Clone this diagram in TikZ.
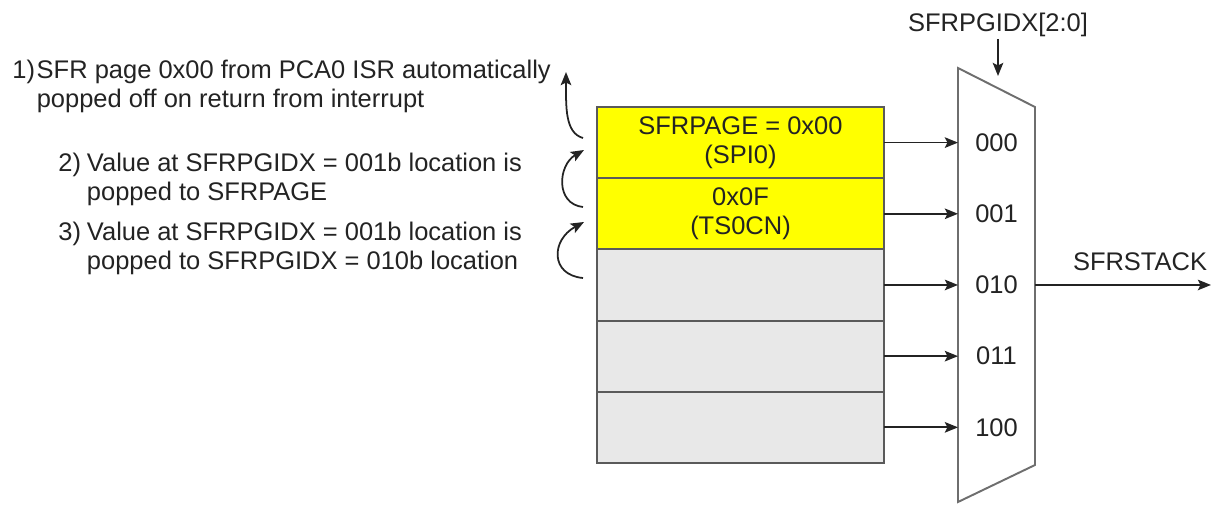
\documentclass[tikz,border=0pt]{standalone}
\usepackage{fontspec}
\setmainfont{Liberation Sans}
\usetikzlibrary{arrows.meta, positioning}
\definecolor{stkyellow}{RGB}{255,255,0}
\definecolor{stkgray}{RGB}{232,232,232}
\definecolor{stkedge}{RGB}{90,90,90}
\definecolor{muxedge}{RGB}{110,110,110}
\definecolor{inktext}{RGB}{35,35,35}
\tikzset{
  %% ---- boxes ----
  cell/.style    = {rectangle, draw=stkedge, line width=1.2pt,
                    fill=#1, minimum width=5.74cm, minimum height=1.424cm,
                    outer sep=0pt, inner sep=0pt, align=center},
  cell/.default  = stkgray,
  muxbody/.style = {draw=muxedge, line width=1.1pt, fill=white},
  %% ---- text ----
  note/.style    = {anchor=base west, inner sep=0pt, align=left},
  %% ---- arrows ----
  arr/.style     = {-{Stealth[length=7.5pt, width=6pt, inset=1.5pt]}, line width=1pt, color=inktext},
}

\begin{document}
\begin{tikzpicture}[
  x=0.02cm, y=-0.02cm,
  every node/.style = {font=\fontsize{14.5}{16.6}\selectfont, text=inktext}
]
\useasboundingbox (0,0) rectangle (1221,504);
% stack of SFR pages
\node[cell=stkyellow]            (r0) at (740.5,142.6) {SFRPAGE = 0x00\\(SPI0)};
\node[cell=stkyellow, below=0pt of r0] (r1) {0x0F\\(TS0CN)};
\node[cell, below=0pt of r1]     (r2) {};
\node[cell, below=0pt of r2]     (r3) {};
\node[cell, below=0pt of r3]     (r4) {};
% multiplexer
\coordinate (mtl) at (958,68);  \coordinate (mtr) at (1035,107);
\coordinate (mbr) at (1035,465); \coordinate (mbl) at (958,502);
\draw[muxbody] (mtl) -- (mtr) -- (mbr) -- (mbl) -- cycle;
\node (i0) at (996.5,0 |- r0) {000};
\node (i1) at (996.5,0 |- r1) {001};
\node (i2) at (996.5,0 |- r2) {010};
\node (i3) at (996.5,0 |- r3) {011};
\node (i4) at (996.5,0 |- r4) {100};
\draw[arr] (r0.east) -- (r0.east -| mtl); \draw[arr] (r1.east) -- (r1.east -| mtl);
\draw[arr] (r2.east) -- (r2.east -| mtl); \draw[arr] (r3.east) -- (r3.east -| mtl);
\draw[arr] (r4.east) -- (r4.east -| mtl);
% select and output
\node[inner sep=1pt] (idx) at (998,25) {SFRPGIDX[2:0]};
\coordinate (idxtip) at (998,76);
\draw[arr] (idx.south) -- (idxtip);
\node (stk) at (1140,262) {SFRSTACK};
\coordinate (mout) at (mtr |- r2.east);
\coordinate (sout) at (1211,0 |- r2.east);
\draw[arr] (mout) -- (sout);
% notes and pop arrows
\node[note] (n1) at (12,78)  {\begin{tabular}[t]{@{}l@{\hspace{1pt}}l@{}}1)&SFR page 0x00 from PCA0 ISR automatically\\&popped off on return from interrupt\end{tabular}};
\node[note] (n2) at (58,171) {\begin{tabular}[t]{@{}l@{\hspace{3.4pt}}l@{}}2)&Value at SFRPGIDX = 001b location is\\&popped to SFRPAGE\end{tabular}};
\node[note] (n3) at (58,240) {\begin{tabular}[t]{@{}l@{\hspace{3.4pt}}l@{}}3)&Value at SFRPGIDX = 001b location is\\&popped to SFRPGIDX = 010b location\end{tabular}};
\coordinate (p1a) at (583,138); \coordinate (p1b) at (566,72);
\coordinate (p2a) at (583,207); \coordinate (p2b) at (584,150);
\coordinate (p3a) at (583,278); \coordinate (p3b) at (584,222);
\draw[arr] (p1a) .. controls +(-18,-5) and +(0,35) .. (p1b);
\draw[arr] (p2a) .. controls +(-28,-3) and +(-26,15) .. (p2b);
\draw[arr] (p3a) .. controls +(-33,-3) and +(-33,18) .. (p3b);
\end{tikzpicture}
\end{document}
